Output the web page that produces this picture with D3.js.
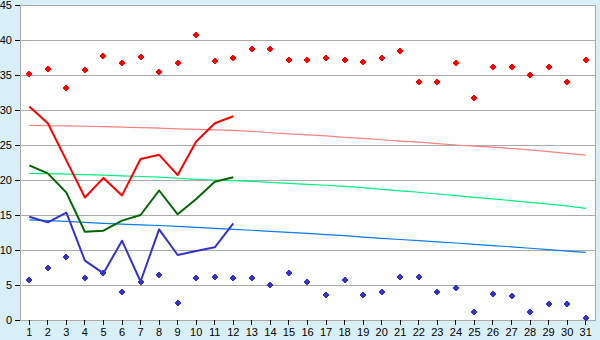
<!DOCTYPE html>
<html>
<head>
<meta charset="utf-8">
<script src="https://cdn.jsdelivr.net/npm/d3@7"></script>
<style>
    body { margin: 0; background: #d9eff6; }
    svg { display: block; font-family: "DejaVu Sans", Verdana, sans-serif; }
</style>
</head>
<body>
<svg id="chart" width="600" height="340"></svg>
<script>
// --- DATA ---
const days = d3.range(1, 32);
const yTicks = [0, 5, 10, 15, 20, 25, 30, 35, 40, 45];

// observed daily values (first 12 days)
const maxTemp = [30.5, 28.1, 22.8, 17.5, 20.3, 17.8, 23.0, 23.6, 20.7, 25.5, 28.1, 29.1];
const meanTemp = [22.1, 20.95, 18.2, 12.6, 12.76, 14.2, 15.0, 18.5, 15.1, 17.3, 19.76, 20.4];
const minTemp = [14.76, 13.95, 15.33, 8.48, 6.67, 11.33, 5.5, 12.95, 9.29, 9.86, 10.38, 13.8];

// normals
const normMax = [27.8, 27.75, 27.72, 27.68, 27.62, 27.55, 27.48, 27.4, 27.3, 27.22, 27.15, 27.1, 26.95, 26.75, 26.6,
    26.45, 26.3, 26.1, 25.95, 25.75, 25.55, 25.4, 25.2, 25.0, 24.85, 24.7, 24.5, 24.3, 24.05, 23.8, 23.55];
const normMean = [20.95, 20.9, 20.85, 20.78, 20.7, 20.6, 20.5, 20.4, 20.25, 20.1, 20.0, 19.9, 19.8, 19.65, 19.52,
    19.38, 19.25, 19.1, 18.9, 18.67, 18.45, 18.25, 18.0, 17.77, 17.52, 17.3, 17.05, 16.8, 16.55, 16.3, 15.95];
const normMin = [14.29, 14.2, 14.1, 13.95, 13.8, 13.7, 13.6, 13.5, 13.38, 13.24, 13.1, 12.95, 12.82, 12.67, 12.52,
    12.38, 12.2, 12.05, 11.85, 11.67, 11.5, 11.33, 11.15, 11.0, 10.81, 10.62, 10.45, 10.25, 10.05, 9.85, 9.67];

// records
const recordHigh = [35.1, 35.8, 33.2, 35.7, 37.7, 36.7, 37.5, 35.5, 36.7, 40.7, 37.0, 37.4, 38.7, 38.7, 37.2,
    37.1, 37.4, 37.2, 36.8, 37.4, 38.4, 34.0, 34.0, 36.7, 31.7, 36.1, 36.1, 35.0, 36.1, 34.0, 37.2];
const recordLow = [5.67, 7.38, 8.95, 5.95, 6.67, 3.95, 5.48, 6.38, 2.38, 5.95, 6.1, 5.95, 5.95, 4.95, 6.67,
    5.38, 3.52, 5.67, 3.52, 3.95, 6.1, 6.1, 3.95, 4.52, 1.1, 3.67, 3.38, 1.1, 2.24, 2.24, 0.24];

// --- CHART ---
drawChart();

function drawChart() {
    const svg = d3.select("#chart");
    const left = 20, right = 595, top = 5, bottom = 320;

    const x = d3.scaleBand().domain(days).range([left, right]);
    const y = d3.scaleLinear().domain([0, 45]).range([bottom, top]);
    const cx = d => x(d) + x.bandwidth() / 2;

    // plot area
    svg.append("rect")
        .attr("x", left).attr("y", top)
        .attr("width", right - left).attr("height", bottom - top)
        .attr("fill", "#fff");

    // gridlines
    svg.append("g")
        .selectAll("line")
        .data(yTicks.filter(t => t > 0))
        .enter()
        .append("line")
        .attr("x1", left).attr("x2", right)
        .attr("y1", d => Math.round(y(d)) + 0.5)
        .attr("y2", d => Math.round(y(d)) + 0.5)
        .attr("stroke", "#aaa")
        .attr("shape-rendering", "crispEdges");

    // frame: left, right, bottom
    const frame = svg.append("g").attr("stroke", "#aaa").attr("shape-rendering", "crispEdges");
    frame.append("line").attr("x1", left + 0.5).attr("x2", left + 0.5).attr("y1", top).attr("y2", bottom + 1);
    frame.append("line").attr("x1", right + 0.5).attr("x2", right + 0.5).attr("y1", top).attr("y2", bottom + 1);
    frame.append("line").attr("x1", left).attr("x2", right + 1).attr("y1", bottom + 0.5).attr("y2", bottom + 0.5);

    // y axis
    const yAxis = svg.append("g")
        .attr("transform", `translate(${left},0)`)
        .call(d3.axisLeft(y).tickValues(yTicks).tickSize(5).tickPadding(3));
    yAxis.select(".domain").remove();
    yAxis.selectAll(".tick line").attr("stroke", "#000").attr("shape-rendering", "crispEdges");
    yAxis.selectAll("text").style("font-size", "11px").attr("fill", "#000");

    // x axis
    const xAxis = svg.append("g")
        .attr("transform", `translate(0,${bottom})`)
        .call(d3.axisBottom(x).tickSize(5).tickPadding(3));
    xAxis.select(".domain").remove();
    xAxis.selectAll(".tick line").attr("stroke", "#000").attr("shape-rendering", "crispEdges");
    xAxis.selectAll("text").style("font-size", "11px").attr("fill", "#000");

    const line = d3.line().x((d, i) => cx(days[i])).y(d => y(d));

    // normals (thin)
    const normals = [
        { data: normMax, color: "#ff8080" },
        { data: normMean, color: "#00f080" },
        { data: normMin, color: "#0a7cf0" }
    ];
    normals.forEach(n => {
        svg.append("path")
            .datum(n.data)
            .attr("fill", "none")
            .attr("stroke", n.color)
            .attr("stroke-width", 1.2)
            .attr("d", line);
    });

    // observed lines
    const observed = [
        { data: maxTemp, color: "#ff0000" },
        { data: meanTemp, color: "#006600" },
        { data: minTemp, color: "#3333cc" }
    ];
    observed.forEach(o => {
        svg.append("path")
            .datum(o.data)
            .attr("fill", "none")
            .attr("stroke", o.color)
            .attr("stroke-width", 2)
            .attr("stroke-linejoin", "round")
            .attr("d", line);
    });

    // record markers (small plus with a thick centre)
    const marker = "M-1,-3h2v1h1v1h1v2h-1v1h-1v1h-2v-1h-1v-1h-1v-2h1v-1h1z";
    const records = [
        { data: recordHigh, color: "#ff0000" },
        { data: recordLow, color: "#3333cc" }
    ];
    records.forEach(r => {
        svg.append("g")
            .selectAll("path")
            .data(r.data)
            .enter()
            .append("path")
            .attr("d", marker)
            .attr("transform", (d, i) => `translate(${Math.round(cx(days[i]))},${Math.round(y(d))})`)
            .attr("fill", r.color);
    });
}
</script>
</body>
</html>
